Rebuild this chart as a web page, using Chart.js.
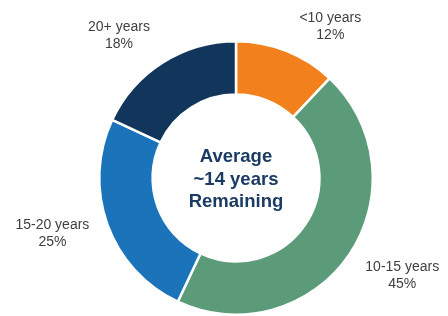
<!DOCTYPE html>
<html>
<head>
<meta charset="utf-8">
<script src="https://cdn.jsdelivr.net/npm/chart.js@4"></script>
<style>
  html, body { margin: 0; padding: 0; background: #ffffff; }
  #wrap { width: 448px; height: 316px; }
</style>
</head>
<body>
<div id="wrap"><canvas id="grafico" width="448" height="316"></canvas></div>
<script>
// datos del grafico
const categorias = ['<10 years', '10-15 years', '15-20 years', '20+ years'];
const porcentajes = [12, 45, 25, 18];
const colores = ['#F2811D', '#5B9B79', '#1B74BA', '#12365B'];
const textoCentro = ['Average', '~14 years', 'Remaining'];

// angulo (grados desde arriba) y distancia de cada etiqueta respecto al centro
const posEtiquetas = [[32, 178], [120.5, 193], [253, 192], [320.5, 184]];

const etiquetasPlugin = {
    id: 'etiquetas',
    afterDraw(chart) {
        const ctx = chart.ctx;
        const arcs = chart.getDatasetMeta(0).data;
        const cx = arcs[0].x;
        const cy = arcs[0].y;
        ctx.save();
        ctx.textAlign = 'center';
        ctx.textBaseline = 'middle';

        // etiquetas de cada segmento
        ctx.fillStyle = '#404040';
        ctx.font = '14px "Liberation Sans", Arial, sans-serif';
        arcs.forEach((arc, i) => {
            const [ang, dist] = posEtiquetas[i];
            const rad = ang * Math.PI / 180;
            const x = cx + dist * Math.sin(rad);
            const y = cy - dist * Math.cos(rad);
            ctx.fillText(categorias[i], x, y - 8.5);
            ctx.fillText(`${porcentajes[i]}%`, x, y + 8.5);
        });

        // texto del centro
        ctx.fillStyle = '#1B3B63';
        ctx.font = 'bold 18.5px "Liberation Sans", Arial, sans-serif';
        textoCentro.forEach((linea, i) => {
            ctx.fillText(linea, cx, cy - 21 + i * 22.5);
        });
        ctx.restore();
    }
};

new Chart(document.getElementById('grafico'), {
    type: 'doughnut',
    data: {
        labels: categorias,
        datasets: [{
            data: porcentajes,
            backgroundColor: colores,
            borderColor: '#ffffff',
            borderWidth: 2.5
        }]
    },
    options: {
        responsive: false,
        animation: false,
        cutout: '61%',
        layout: { padding: { top: 40, bottom: 0, left: 24, right: 0 } },
        plugins: {
            legend: { display: false },
            tooltip: { enabled: false }
        }
    },
    plugins: [etiquetasPlugin]
});
</script>
</body>
</html>
